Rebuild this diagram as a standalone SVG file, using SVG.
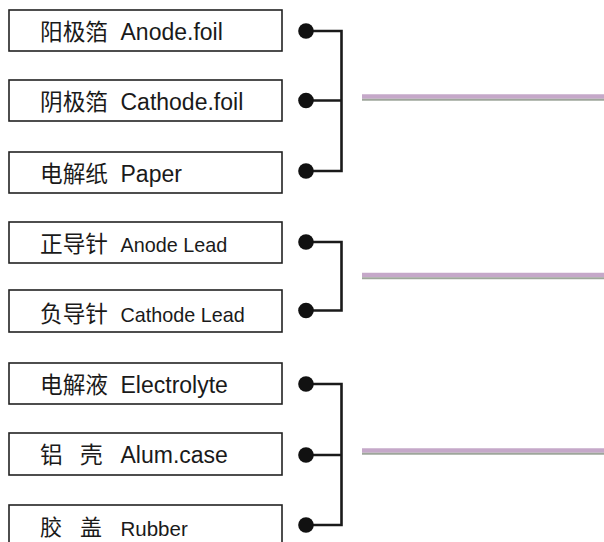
<svg xmlns="http://www.w3.org/2000/svg" width="604" height="542" viewBox="0 0 604 542">
<style>
.box{fill:#fff;stroke:#222;stroke-width:1.6}
.cn{font-family:"Noto Sans CJK SC","Noto Sans",sans-serif;font-size:22.7px;fill:#1a1a1a}
.en{font-family:"Liberation Sans",Arial,sans-serif;font-size:23px;fill:#1a1a1a}
.en2{font-family:"Liberation Sans",Arial,sans-serif;font-size:19.8px;fill:#1a1a1a}
.wire{fill:none;stroke:#1a1a1a;stroke-width:2.6}
.dot{fill:#111}
.band{stroke:#c5a8c9;stroke-width:4.5}
.band2{stroke:#9ea69b;stroke-width:2}
</style>
<rect width="604" height="542" fill="#fff"/>
<g id="n1"><rect class="box" x="9" y="10" width="273" height="41"/><text class="cn" x="40" y="39.5">阳极箔</text><text class="en" x="120.5" y="39.5">Anode.foil</text></g>
<g id="n2"><rect class="box" x="9" y="80" width="273" height="41"/><text class="cn" x="40" y="110">阴极箔</text><text class="en" x="120.5" y="110">Cathode.foil</text></g>
<g id="n3"><rect class="box" x="9" y="152" width="273" height="41"/><text class="cn" x="40" y="181.7">电解纸</text><text class="en" x="120.5" y="181.7">Paper</text></g>
<g id="n4"><rect class="box" x="9" y="222" width="273" height="41"/><text class="cn" x="40" y="251.7">正导针</text><text class="en2" x="120.5" y="251.7">Anode Lead</text></g>
<g id="n5"><rect class="box" x="9" y="290" width="273" height="42"/><text class="cn" x="40" y="321.7">负导针</text><text class="en2" x="120.5" y="321.7">Cathode Lead</text></g>
<g id="n6"><rect class="box" x="9" y="363" width="273" height="41"/><text class="cn" x="40" y="393.3">电解液</text><text class="en" x="120.5" y="393.3">Electrolyte</text></g>
<g id="n7"><rect class="box" x="9" y="433" width="273" height="42"/><text class="cn" x="40" y="463">铝</text><text class="cn" x="80" y="463">壳</text><text class="en" x="120.5" y="463">Alum.case</text></g>
<g id="n8"><rect class="box" x="9" y="505" width="273" height="45"/><text class="cn" x="40" y="534.5" style="font-size:22px">胶</text><text class="cn" x="80" y="534.5" style="font-size:22px">盖</text><text class="en2" x="120.5" y="535.5" style="font-size:20.5px">Rubber</text></g>
<g id="connectors">
<path class="wire" d="M306 31H341.5V171H306M306 100.5H341.5"/>
<path class="wire" d="M306 242H341.5V310.5H306"/>
<path class="wire" d="M306 384H341.5V525H306M306 455H341.5"/>
<circle class="dot" cx="306" cy="31" r="7.8"/>
<circle class="dot" cx="306" cy="100.5" r="7.8"/>
<circle class="dot" cx="306" cy="171" r="7.8"/>
<circle class="dot" cx="306" cy="242" r="7.8"/>
<circle class="dot" cx="306" cy="310.5" r="7.8"/>
<circle class="dot" cx="306" cy="384" r="7.8"/>
<circle class="dot" cx="306" cy="455" r="7.8"/>
<circle class="dot" cx="306" cy="525" r="7.8"/>
<line class="band" x1="362" y1="96.5" x2="604" y2="96.5"/>
<line class="band2" x1="362" y1="99.8" x2="604" y2="99.8"/>
<line class="band" x1="362" y1="275" x2="604" y2="275"/>
<line class="band2" x1="362" y1="278.3" x2="604" y2="278.3"/>
<line class="band" x1="362" y1="450.5" x2="604" y2="450.5"/>
<line class="band2" x1="362" y1="453.8" x2="604" y2="453.8"/>
</g>
</svg>
